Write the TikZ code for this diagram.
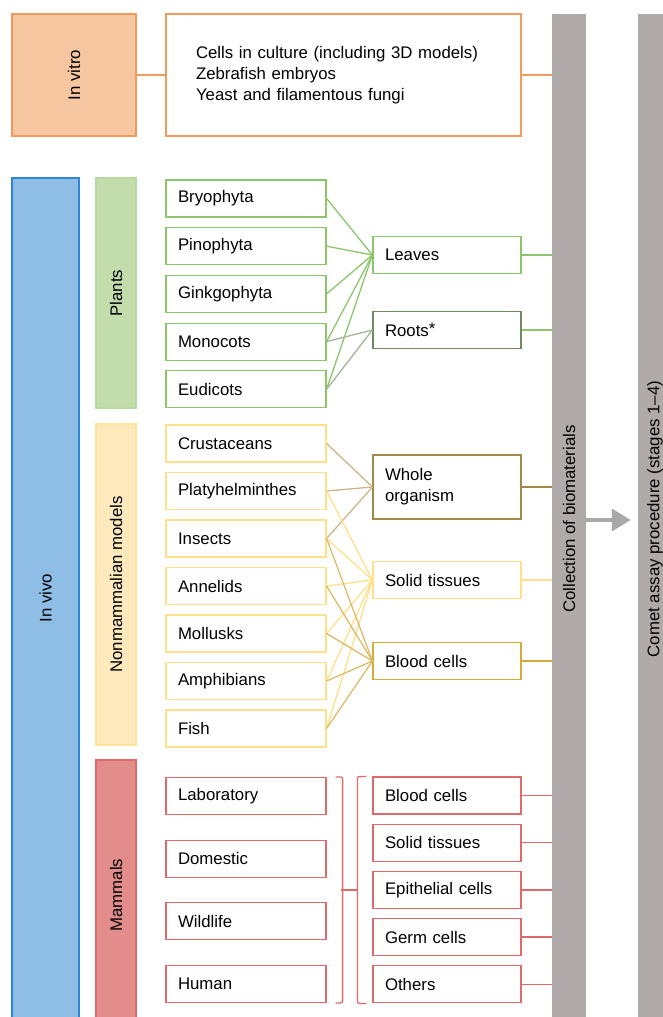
\documentclass[tikz,border=0pt]{standalone}
\usepackage{fontspec}
\setmainfont{Liberation Sans}
\usetikzlibrary{chains,positioning,arrows.meta}

\definecolor{vitrofill}{HTML}{F5C6A0}
\definecolor{vitroline}{HTML}{F29A5C}
\definecolor{vivofill}{HTML}{8EBEE5}
\definecolor{vivoline}{HTML}{2F86D6}
\definecolor{plantfill}{HTML}{C2DDAB}
\definecolor{plantline}{HTML}{8CC66A}
\definecolor{rootline}{HTML}{6E8A5E}
\definecolor{rootlink}{HTML}{A5B49A}
\definecolor{nonmfill}{HTML}{FDE9BC}
\definecolor{nonmline}{HTML}{FFE08A}
\definecolor{wholeline}{HTML}{A08A45}
\definecolor{wholelink}{HTML}{C9B68A}
\definecolor{bloodline}{HTML}{D4AC3A}
\definecolor{bloodlink}{HTML}{D9BC6A}
\definecolor{mamfill}{HTML}{E38C8C}
\definecolor{mamline}{HTML}{E06A6A}
\definecolor{barfill}{HTML}{B0ABAA}
\definecolor{arrowgrey}{HTML}{A9A9A9}

\tikzset{
  box/.style={draw, line width=1.2pt, fill=white, minimum height=37pt, inner xsep=12pt,
    align=left, font=\fontsize{16.8}{21}\selectfont},
  leftbox/.style={box, minimum width=160pt, text width=136pt},
  rightbox/.style={box, minimum width=148pt, text width=124pt},
  group/.style={draw, line width=1.2pt, rotate=90, inner sep=0pt, font=\fontsize{16.8}{20}\selectfont},
  bar/.style={fill=barfill, rotate=90, inner sep=0pt, minimum width=1010pt, minimum height=34pt,
    font=\fontsize{16.8}{20}\selectfont},
  link/.style={line width=1.3pt}
}

\begin{document}
\begin{tikzpicture}[x=1pt,y=-1pt]
\useasboundingbox (0,0) rectangle (663,1017);

% the two grey bars
\node[bar] (collect) at (569,519) {Collection of biomaterials};
\node[bar] (comet) at (655,519) {Comet assay procedure (stages 1--4)};
\draw[line width=3.5pt, arrowgrey, -{Triangle[length=19pt,width=22pt]}, shorten >=7pt]
  ([yshift=-1pt]collect.south) -- ([yshift=-1pt]comet.north);

% in vitro
\node[group, fill=vitrofill, draw=vitroline, minimum width=122pt, minimum height=124pt] (vitro) at (74,75) {In vitro};
\node[box, draw=vitroline, minimum width=355pt, minimum height=122pt, inner xsep=30pt, text width=295pt] (cells) at (343.5,75)
  {Cells in culture (including 3D models)\\Zebrafish embryos\\Yeast and filamentous fungi};
\draw[link, vitroline] (vitro) -- (cells);
\draw[link, vitroline] (cells.east) -- (cells.east -| collect.north);

% in vivo
\node[group, fill=vivofill, draw=vivoline, minimum width=840pt, minimum height=67pt] (vivo) at (45.5,598) {In vivo};
\node[group, fill=plantfill, draw=plantfill!80!plantline, minimum width=230pt, minimum height=40pt] (plants) at (116,293) {Plants};
\node[group, fill=nonmfill, draw=nonmline!70!nonmfill, minimum width=321pt, minimum height=40pt] (nonm) at (116,584.5) {Nonmammalian models};
\node[group, fill=mamfill, draw=mamline, minimum width=270pt, minimum height=40pt] (mammals) at (116,895) {Mammals};

% plants
\begin{scope}[shift={(246,198.5)},start chain=going below,node distance=9.5pt]
\def\plist{1/{Bryophyta},2/{Pinophyta},3/{Ginkgophyta},4/{Monocots},5/{Eudicots}}
\foreach \i / \element in \plist
  \node [leftbox, draw=plantline, on chain] (p\i) {\element};
\end{scope}

\node[rightbox, draw=plantline] (leaves) at (447,255) {Leaves};
\node[rightbox, draw=rootline] (roots) at (447,330) {Roots\raisebox{2.5pt}{*}};

\draw[link, plantline] (p1.east) -- (leaves.west);
\draw[link, plantline] (p2.east) -- (leaves.west);
\draw[link, plantline] (p3.east) -- (leaves.west);
\draw[link, plantline] (p4.east) -- (leaves.west);
\draw[link, plantline] (p5.east) -- (leaves.west);
\draw[link, rootlink] (p4.east) -- (roots.west);
\draw[link, rootlink] (p5.east) -- (roots.west);
\draw[link, plantline] (leaves.east) -- (leaves.east -| collect.north);
\draw[link, plantline] (roots.east) -- (roots.east -| collect.north);

% nonmammalian models
\begin{scope}[shift={(246,443.5)},start chain=going below,node distance=9.3pt]
\def\nlist{1/{Crustaceans},2/{Platyhelminthes},3/{Insects},4/{Annelids},5/{Mollusks},6/{Amphibians},7/{Fish}}
\foreach \i / \element in \nlist
  \node [leftbox, draw=nonmline, on chain] (n\i) {\element};
\end{scope}

\node[rightbox, draw=wholeline, minimum height=64pt] (whole) at (447,487) {Whole\\organism};
\node[rightbox, draw=nonmline] (solid) at (447,580) {Solid tissues};
\node[rightbox, draw=bloodline] (blood) at (447,661) {Blood cells};

\draw[link, wholelink] (n1.east) -- (whole.west);
\draw[link, wholelink] (n2.east) -- (whole.west);
\draw[link, wholelink] (n3.east) -- (whole.west);
\draw[link, nonmline] (n2.east) -- (solid.west);
\draw[link, nonmline] (n3.east) -- (solid.west);
\draw[link, nonmline] (n4.east) -- (solid.west);
\draw[link, nonmline] (n5.east) -- (solid.west);
\draw[link, nonmline] (n6.east) -- (solid.west);
\draw[link, nonmline] (n7.east) -- (solid.west);
\draw[link, bloodlink] (n3.east) -- (blood.west);
\draw[link, bloodlink] (n4.east) -- (blood.west);
\draw[link, bloodlink] (n5.east) -- (blood.west);
\draw[link, bloodlink] (n6.east) -- (blood.west);
\draw[link, bloodlink] (n7.east) -- (blood.west);
\draw[link, wholeline] (whole.east) -- (whole.east -| collect.north);
\draw[link, nonmline] (solid.east) -- (solid.east -| collect.north);
\draw[link, bloodline] (blood.east) -- (blood.east -| collect.north);

% mammals
\begin{scope}[shift={(246,796)},start chain=going below,node distance=24.4pt]
\def\mlist{1/{Laboratory},2/{Domestic},3/{Wildlife},4/{Human}}
\foreach \i / \element in \mlist
  \node [leftbox, draw=mamline, on chain] (m\i) {\element};
\end{scope}

\begin{scope}[shift={(447,795.5)},start chain=going below,node distance=9pt]
\def\tlist{1/{Blood cells},2/{Solid tissues},3/{Epithelial cells},4/{Germ cells},5/{Others}}
\foreach \i / \element in \tlist
  \node [rightbox, draw=mamline, on chain] (t\i) {\element};
\end{scope}

\draw[link, mamline, rounded corners=2pt] ([xshift=9pt]m1.north east) -- ([xshift=16pt]m1.north east)
  -- ([xshift=16pt]m4.south east) -- ([xshift=9pt]m4.south east);
\draw[link, mamline, rounded corners=2pt] ([xshift=-6pt]t1.north west) -- ([xshift=-15pt]t1.north west)
  -- ([xshift=-15pt]t5.south west) -- ([xshift=-6pt]t5.south west);
\draw[link, mamline] ([xshift=-15pt]t3.west) -- ([xshift=-31pt]t3.west);

\draw[link, mamline] (t1.east) -- (t1.east -| collect.north);
\draw[link, mamline] (t2.east) -- (t2.east -| collect.north);
\draw[link, mamline] (t3.east) -- (t3.east -| collect.north);
\draw[link, mamline] (t4.east) -- (t4.east -| collect.north);
\draw[link, mamline] (t5.east) -- (t5.east -| collect.north);

\end{tikzpicture}
\end{document}
